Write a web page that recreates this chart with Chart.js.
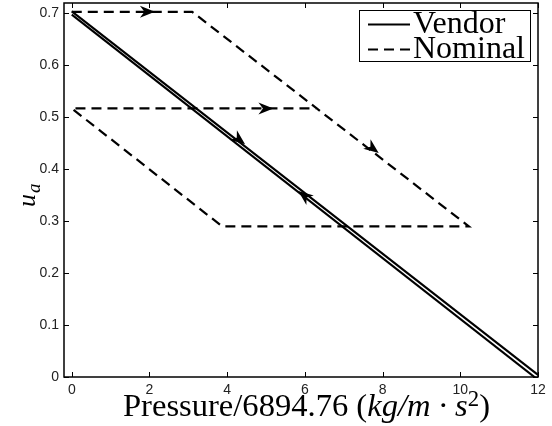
<!DOCTYPE html>
<html>
<head>
<meta charset="utf-8">
<script src="https://cdn.jsdelivr.net/npm/chart.js@4/dist/chart.umd.min.js"></script>
<style>
  html, body { margin: 0; padding: 0; background: #fff; }
  #wrap { width: 552px; height: 426px; }
</style>
</head>
<body>
<div id="wrap"><canvas id="chart" width="552" height="426"></canvas></div>
<script>
// Vendor: straight line down, then back up slightly below it
const vendorDownX = [0, 12]
const vendorDownY = [0.704, 0.004]
const vendorUpX = [11.95, 0]
const vendorUpY = [-0.0025, 0.6975]

// Nominal: dashed loop
const nominalX = [0, 3.1, 10.22, 3.87, 0, 6.28]
const nominalY = [0.703, 0.703, 0.29, 0.29, 0.517, 0.517]

// arrow tips and the path segment they sit on
const arrowX = [2.14, 5.19, 7.9, 4.46, 5.83]
const arrowY = [0.703, 0.517, 0.431, 0.448, 0.358]
const arrowSet = [2, 2, 2, 0, 1]
const arrowSeg = [0, 4, 1, 0, 0]

const xTicks = [0, 2, 4, 6, 8, 10, 12]
const yTicks = [0, 0.1, 0.2, 0.3, 0.4, 0.5, 0.6, 0.7]

const SERIF = '"Liberation Serif", "DejaVu Serif", serif'
const SANS = '"Liberation Sans", Arial, sans-serif'

function toPoints(xs, ys) {
  return xs.map((x, i) => ({ x: x, y: ys[i] }))
}

// fit text to a width in px
function fitFont(ctx, text, style, width) {
  ctx.font = style + ' 20px ' + SERIF
  return 20 * width / ctx.measureText(text).width
}

const framePlugin = {
  id: 'frame',
  afterDatasetsDraw(chart) {
    const ctx = chart.ctx
    const a = chart.chartArea
    const xs = chart.scales.x
    const ys = chart.scales.y
    ctx.save()
    ctx.strokeStyle = '#000'
    ctx.lineWidth = 1.5
    ctx.strokeRect(a.left, a.top, a.right - a.left, a.bottom - a.top)

    // inward ticks on all four sides
    ctx.lineWidth = 1
    const tl = 5
    xTicks.forEach(v => {
      const px = Math.round(xs.getPixelForValue(v)) + 0.5
      ctx.beginPath()
      ctx.moveTo(px, a.bottom); ctx.lineTo(px, a.bottom - tl)
      ctx.moveTo(px, a.top); ctx.lineTo(px, a.top + tl)
      ctx.stroke()
    })
    yTicks.forEach(v => {
      const py = Math.round(ys.getPixelForValue(v)) + 0.5
      ctx.beginPath()
      ctx.moveTo(a.left, py); ctx.lineTo(a.left + tl, py)
      ctx.moveTo(a.right, py); ctx.lineTo(a.right - tl, py)
      ctx.stroke()
    })

    // arrow heads
    ctx.fillStyle = '#000'
    arrowX.forEach((ax, i) => {
      const d = chart.data.datasets[arrowSet[i]].data
      const p0 = d[arrowSeg[i]], p1 = d[arrowSeg[i] + 1]
      const ang = Math.atan2(ys.getPixelForValue(p1.y) - ys.getPixelForValue(p0.y),
                             xs.getPixelForValue(p1.x) - xs.getPixelForValue(p0.x))
      const tx = xs.getPixelForValue(ax), ty = ys.getPixelForValue(arrowY[i])
      ctx.save()
      ctx.translate(tx, ty)
      ctx.rotate(ang)
      ctx.beginPath()
      ctx.moveTo(0, 0)
      ctx.lineTo(-15, -6)
      ctx.lineTo(-10.5, 0)
      ctx.lineTo(-15, 6)
      ctx.closePath()
      ctx.fill()
      ctx.restore()
    })

    // legend box
    const lx = 359.5, ly = 10.5, lw = 171, lh = 51
    ctx.fillStyle = '#fff'
    ctx.fillRect(lx, ly, lw, lh)
    ctx.lineWidth = 1
    ctx.strokeRect(lx, ly, lw, lh)
    const rows = [
      { ds: chart.data.datasets[0], y: 24.5, base: 33 },
      { ds: chart.data.datasets[2], y: 49.5, base: 58 },
    ]
    const fs = fitFont(ctx, 'Nominal', '', 112)
    rows.forEach(r => {
      ctx.strokeStyle = '#000'
      ctx.lineWidth = 2
      ctx.setLineDash(r.ds.borderDash || [])
      ctx.beginPath()
      ctx.moveTo(368, r.y); ctx.lineTo(410, r.y)
      ctx.stroke()
      ctx.setLineDash([])
      ctx.fillStyle = '#000'
      ctx.font = fs + 'px ' + SERIF
      ctx.textBaseline = 'alphabetic'
      ctx.textAlign = 'left'
      ctx.fillText(r.ds.label, 413, r.base)
    })
    ctx.restore()
  },
  afterDraw(chart) {
    const ctx = chart.ctx
    ctx.save()
    ctx.fillStyle = '#000'
    ctx.textBaseline = 'alphabetic'
    ctx.textAlign = 'left'

    // x axis title with italic units
    const parts = [
      { t: 'Pressure/6894.76 (', st: '', sup: false },
      { t: 'kg/m \u00b7 s', st: 'italic', sup: false },
      { t: '2', st: '', sup: true },
      { t: ')', st: '', sup: false },
    ]
    const fs = 25
    let total = 0
    parts.forEach(p => {
      ctx.font = p.st + ' ' + (p.sup ? fs * 0.7 : fs) + 'px ' + SERIF
      p.w = ctx.measureText(p.t).width
      total += p.w
    })
    const k = 367 / total
    let x = 123
    parts.forEach(p => {
      ctx.font = p.st + ' ' + (p.sup ? fs * 0.7 * k : fs * k) + 'px ' + SERIF
      ctx.fillText(p.t, x, p.sup ? 406 : 416)
      x += p.w * k
    })

    // y axis title u_a
    ctx.translate(35, 207)
    ctx.rotate(-Math.PI / 2)
    ctx.font = 'italic 26px ' + SERIF
    ctx.fillText('u', 0, 0)
    const uw = ctx.measureText('u').width
    ctx.font = 'italic 19px ' + SERIF
    ctx.fillText('a', uw + 1, 5)
    ctx.restore()
  }
}

new Chart(document.getElementById('chart'), {
  type: 'scatter',
  data: {
    datasets: [
      {
        label: 'Vendor',
        data: toPoints(vendorDownX, vendorDownY),
        showLine: true,
        borderColor: '#000',
        borderWidth: 2.1,
        pointRadius: 0,
      },
      {
        label: 'Vendor (return)',
        data: toPoints(vendorUpX, vendorUpY),
        showLine: true,
        borderColor: '#000',
        borderWidth: 2.1,
        pointRadius: 0,
      },
      {
        label: 'Nominal',
        data: toPoints(nominalX, nominalY),
        showLine: true,
        borderColor: '#000',
        borderWidth: 2.2,
        borderDash: [10, 6],
        pointRadius: 0,
      },
    ],
  },
  options: {
    responsive: false,
    animation: false,
    layout: { padding: { left: 0, top: 3, right: 14, bottom: 0 } },
    plugins: {
      legend: { display: false },
      tooltip: { enabled: false },
    },
    scales: {
      x: {
        type: 'linear',
        min: -0.2,
        max: 12,
        afterBuildTicks: s => { s.ticks = xTicks.map(v => ({ value: v })) },
        afterFit: s => { s.height = 49; s.paddingLeft = 0; s.paddingRight = 0 },
        grid: { display: false, drawTicks: false },
        border: { display: false },
        ticks: {
          padding: 5,
          maxRotation: 0,
          color: '#222',
          font: { family: SANS, size: 14 },
        },
      },
      y: {
        type: 'linear',
        min: 0,
        max: 0.72,
        afterBuildTicks: s => { s.ticks = yTicks.map(v => ({ value: v })) },
        afterFit: s => { s.width = 64; s.paddingTop = 0; s.paddingBottom = 0 },
        grid: { display: false, drawTicks: false },
        border: { display: false },
        ticks: {
          padding: 5,
          color: '#222',
          font: { family: SANS, size: 14 },
          callback: v => (v === 0 ? '0' : v.toFixed(1)),
        },
      },
    },
  },
  plugins: [framePlugin],
})
</script>
</body>
</html>
